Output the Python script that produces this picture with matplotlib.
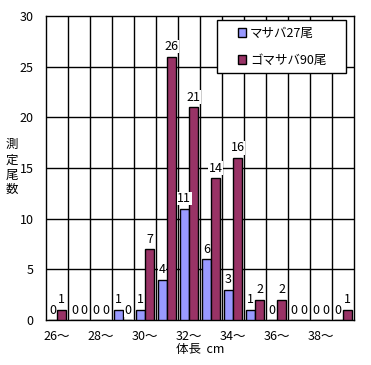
import numpy as np
import matplotlib
matplotlib.use('Agg')
import matplotlib.pyplot as plt
from matplotlib.patches import Rectangle

plt.rcParams['font.family'] = ['Noto Sans CJK JP', 'DejaVu Sans']

lengths = [26, 27, 28, 29, 30, 31, 32, 33, 34, 35, 36, 37, 38, 39]
masaba = [0, 0, 0, 1, 1, 4, 11, 6, 3, 1, 0, 0, 0, 0]
gomasaba = [1, 0, 0, 0, 7, 26, 21, 14, 16, 2, 2, 0, 0, 1]
tick_labels = ['26～', '', '28～', '', '30～', '', '32～', '', '34～', '', '36～', '', '38～', '']
ylabel_chars = ['測', '定', '尾', '数']

fs = 9
W, H = 371, 365

fig = plt.figure(figsize=(3.71, 3.65), dpi=100)
ax = fig.add_axes([0.124, 0.123, 0.83, 0.833])

x = np.arange(len(lengths))
w = 0.42
ax.bar(x - w / 2, masaba, w, color='#9999FF', edgecolor='black', linewidth=1, label='マサバ27尾', zorder=3)
ax.bar(x + w / 2, gomasaba, w, color='#993366', edgecolor='black', linewidth=1, label='ゴマサバ90尾', zorder=3)

for xi, v in zip(x - w / 2, masaba):
    ax.text(xi, v + 0.35, str(v), ha='center', va='bottom', fontsize=fs, zorder=4,
            bbox=dict(facecolor='white', edgecolor='none', pad=0.3))
for xi, v in zip(x + w / 2, gomasaba):
    ax.text(xi, v + 0.35, str(v), ha='center', va='bottom', fontsize=fs, zorder=4,
            bbox=dict(facecolor='white', edgecolor='none', pad=0.3))

ax.set_xlim(-0.5, len(lengths) - 0.5)
ax.set_ylim(0, 30)
ax.set_yticks(range(0, 31, 5))
ax.set_xticks(x)
ax.set_xticklabels(tick_labels)
ax.tick_params(axis='both', length=0, labelsize=fs)
ax.tick_params(axis='x', pad=7)
ax.tick_params(axis='y', pad=9)

# grid: horizontal at each 5, vertical at category boundaries
for yv in range(5, 30, 5):
    ax.axhline(yv, color='black', linewidth=1, zorder=1)
for xv in np.arange(0.5, len(lengths) - 1, 1):
    ax.axvline(xv, color='black', linewidth=1, zorder=1)
for s in ax.spines.values():
    s.set_linewidth(1)
    s.set_color('black')

ax.set_xlabel('体長  cm', fontsize=fs, labelpad=0)
for i, ch in enumerate(ylabel_chars):
    fig.text(0.032, 0.603 - i * 0.041, ch, fontsize=fs, ha='center', va='center')

# legend box drawn separately so it can be wider than its content
box = Rectangle((217 / W, 1 - 73 / H), 129 / W, 53 / H, transform=fig.transFigure,
                facecolor='white', edgecolor='black', linewidth=1, zorder=5, clip_on=False)
ax.add_patch(box)
leg = ax.legend(loc='center', bbox_to_anchor=(282 / W, 1 - 47 / H), bbox_transform=fig.transFigure,
                fontsize=fs, frameon=False, handlelength=0.7, handleheight=0.7,
                handletextpad=0.3, labelspacing=1.15, borderpad=0)
leg.set_zorder(6)

fig.savefig('out.png', dpi=100)
